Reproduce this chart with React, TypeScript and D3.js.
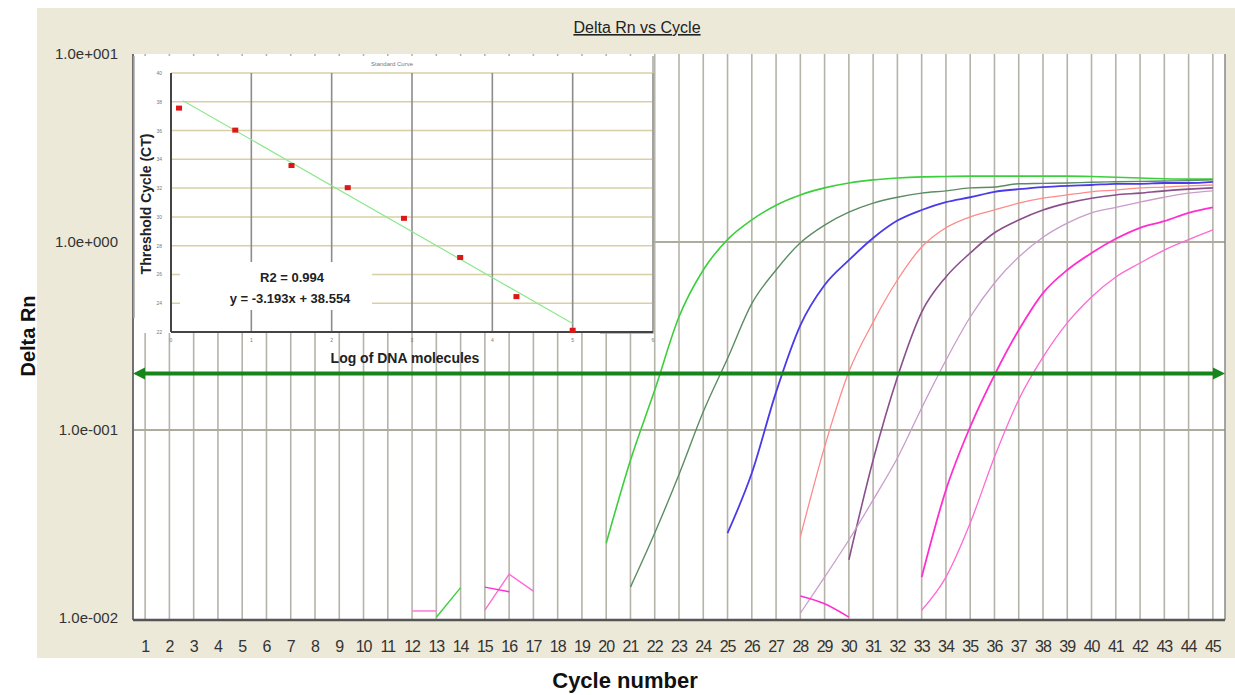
import * as d3 from 'd3';

// ---- main chart data ----
const cycles = d3.range(1, 46);
const yTickValues = [10, 1, 0.1, 0.01];
const yTickLabels = ['1.0e+001', '1.0e+000', '1.0e-001', '1.0e-002'];
const threshold = 0.2;

// Delta Rn per cycle, each series starts at the given cycle
const brightGreen = [0.025, 0.069, 0.163, 0.40, 0.71, 1.03, 1.31, 1.57, 1.78, 1.94, 2.06, 2.14, 2.19, 2.22, 2.23, 2.24, 2.24, 2.24, 2.24, 2.24, 2.23, 2.21, 2.19, 2.17, 2.16, 2.16];
const darkGreen = [0.0146, 0.0283, 0.058, 0.125, 0.24, 0.47, 0.71, 0.99, 1.23, 1.44, 1.61, 1.73, 1.82, 1.87, 1.94, 1.96, 2.04, 2.05, 2.06, 2.08, 2.09, 2.10, 2.11, 2.12, 2.14];
const blue = [0.0283, 0.059, 0.159, 0.36, 0.59, 0.80, 1.05, 1.30, 1.48, 1.63, 1.73, 1.85, 1.91, 1.96, 1.99, 2.01, 2.04, 2.04, 2.06, 2.06, 2.09];
const salmon = [0.027, 0.0813, 0.204, 0.375, 0.628, 0.94, 1.19, 1.36, 1.48, 1.61, 1.71, 1.78, 1.85, 1.89, 1.94, 1.96, 1.99, 2.01];
const darkPurple = [0.0204, 0.0692, 0.191, 0.424, 0.652, 0.874, 1.12, 1.31, 1.48, 1.61, 1.71, 1.78, 1.82, 1.87, 1.91, 1.94];
const lightPurple = [0.0106, 0.0165, 0.026, 0.0425, 0.071, 0.131, 0.235, 0.399, 0.605, 0.832, 1.06, 1.26, 1.43, 1.53, 1.63, 1.73, 1.82, 1.87];
const magenta = [0.0165, 0.048, 0.104, 0.196, 0.340, 0.535, 0.710, 0.874, 1.04, 1.19, 1.29, 1.43, 1.53];
const pink = [0.0110, 0.0165, 0.032, 0.0718, 0.145, 0.244, 0.371, 0.510, 0.652, 0.773, 0.906, 1.03, 1.16];

// early noise pieces just above the 1e-2 floor
const greenNoise = [0.0101, 0.0145];
const pinkNoiseA = [0.0109, 0.0109];
const pinkNoiseB = [0.011, 0.0171, 0.0139];
const magentaNoiseA = [0.0146, 0.0138];
const magentaNoiseB = [0.0131, 0.0119, 0.0101];

const series = [
  { start: 20, values: brightGreen, color: '#3ccf3c', width: 1.6, smooth: true },
  { start: 13, values: greenNoise, color: '#3ccf3c', width: 1.4, smooth: false },
  { start: 21, values: darkGreen, color: '#5b8d62', width: 1.4, smooth: true },
  { start: 25, values: blue, color: '#4a3bea', width: 1.8, smooth: true },
  { start: 28, values: salmon, color: '#ff8a8a', width: 1.3, smooth: true },
  { start: 30, values: darkPurple, color: '#8a4f8c', width: 1.6, smooth: true },
  { start: 28, values: lightPurple, color: '#c99ccb', width: 1.3, smooth: true },
  { start: 33, values: magenta, color: '#ff2fcf', width: 1.8, smooth: true },
  { start: 33, values: pink, color: '#ff6ad2', width: 1.3, smooth: true },
  { start: 12, values: pinkNoiseA, color: '#ff7fd8', width: 1.6, smooth: false },
  { start: 15, values: pinkNoiseB, color: '#ff6ad2', width: 1.4, smooth: false },
  { start: 15, values: magentaNoiseA, color: '#ff2fcf', width: 1.4, smooth: false },
  { start: 28, values: magentaNoiseB, color: '#ff2fcf', width: 1.6, smooth: true },
];

// ---- inset standard curve data ----
const logDNA = [0.1, 0.8, 1.5, 2.2, 2.9, 3.6, 4.3, 5.0];
const ctValues = [37.56, 36.03, 33.57, 32.03, 29.90, 27.18, 24.46, 22.12];
const fitSlope = -3.193;
const fitIntercept = 38.554;
const fitRange = [0.15, 5.0];
const insetYTicks = d3.range(22, 41, 2);
const insetXTicks = d3.range(0, 7);

const FONT = '"Liberation Sans", Arial, sans-serif';

export default function App() {
  const W = 1235;
  const H = 695;

  const x = d3.scaleLinear().domain([0.5, 45.5]).range([133, 1225]);
  const y = d3.scaleLog().domain([0.01, 10]).range([618, 54]);
  const plotTop = 54;
  const plotBottom = 620;
  const [x0, x1] = x.range();

  const smoothLine = d3
    .line<{ c: number; v: number }>()
    .x((d) => x(d.c))
    .y((d) => y(d.v))
    .curve(d3.curveMonotoneX);
  const straightLine = d3
    .line<{ c: number; v: number }>()
    .x((d) => x(d.c))
    .y((d) => y(d.v));

  const ix = d3.scaleLinear().domain([0, 6]).range([171, 653]);
  const iy = d3.scaleLinear().domain([22, 40]).range([332, 73]);
  const fitLine = d3
    .line<number>()
    .x((d) => ix(d))
    .y((d) => iy(fitSlope * d + fitIntercept));

  const yT = y(threshold);

  return (
    <svg
      width={W}
      height={H}
      style={{ position: 'absolute', left: 0, top: 0, background: '#fff' }}
      fontFamily={FONT}
    >
      <defs>
        <clipPath id="plot-clip">
          <rect x={x0} y={plotTop} width={x1 - x0} height={plotBottom - plotTop} />
        </clipPath>
      </defs>

      {/* beige panel */}
      <rect x={37} y={8} width={W - 37} height={650} fill="#ece9d9" />

      <text x={637} y={33} textAnchor="middle" fontSize={16} fill="#222" textDecoration="underline">
        Delta Rn vs Cycle
      </text>

      {/* plot area */}
      <rect x={x0} y={plotTop} width={x1 - x0} height={plotBottom - plotTop} fill="#fff" />

      {cycles.map((c) => (
        <line key={'vg' + c} x1={x(c)} x2={x(c)} y1={plotTop} y2={plotBottom} stroke="#b6b3a8" strokeWidth={1.6} />
      ))}
      {[1, 0.1].map((v) => (
        <line key={'hg' + v} x1={x0} x2={x1} y1={y(v)} y2={y(v)} stroke="#aeab9f" strokeWidth={2} />
      ))}

      <g clipPath="url(#plot-clip)" fill="none">
        {series.map((s, i) => {
          const pts = s.values.map((v, k) => ({ c: s.start + k, v }));
          return (
            <path
              key={'s' + i}
              d={(s.smooth ? smoothLine(pts) : straightLine(pts)) || ''}
              stroke={s.color}
              strokeWidth={s.width}
            />
          );
        })}
      </g>

      {/* borders */}
      <line x1={x0} x2={x0} y1={plotTop} y2={plotBottom} stroke="#707070" strokeWidth={2} />
      <line x1={x1} x2={x1} y1={plotTop} y2={plotBottom} stroke="#8a8a8a" strokeWidth={1.5} />
      <line x1={x0} x2={x1} y1={plotBottom} y2={plotBottom} stroke="#555" strokeWidth={2.5} />

      {/* y ticks */}
      {yTickValues.map((v, i) => (
        <text key={'yt' + v} x={118} y={y(v) + 5} textAnchor="end" fontSize={15} fill="#333">
          {yTickLabels[i]}
        </text>
      ))}
      {/* x ticks */}
      {cycles.map((c) => (
        <text key={'xt' + c} x={x(c)} y={652} textAnchor="middle" fontSize={16} letterSpacing={-1} fill="#333">
          {c}
        </text>
      ))}

      <text
        transform={`translate(28,336) rotate(-90)`}
        textAnchor="middle"
        dominantBaseline="central"
        fontSize={20}
        fontWeight="bold"
        fill="#111"
      >
        Delta Rn
      </text>
      <text x={625} y={688} textAnchor="middle" fontSize={22} fontWeight="bold" fill="#111">
        Cycle number
      </text>

      {/* ---- inset: standard curve ---- */}
      <rect x={134} y={56} width={519} height={277} fill="#fff" />
      <path d={`M134,318 V56 M653,56 V333 H600`} fill="none" stroke="#a8a8a8" strokeWidth={1.5} />
      {insetYTicks.map((t) => (
        <line key={'iyg' + t} x1={ix(0)} x2={ix(6)} y1={iy(t)} y2={iy(t)} stroke="#d8cfa6" strokeWidth={1.5} />
      ))}
      {[1, 2, 3, 4, 5].map((t) => (
        <line key={'ixg' + t} x1={ix(t)} x2={ix(t)} y1={iy(40)} y2={iy(22)} stroke="#8c8c8c" strokeWidth={1.6} />
      ))}
      <line x1={ix(6)} x2={ix(6)} y1={iy(40)} y2={iy(22)} stroke="#9a9a9a" strokeWidth={1.5} />
      <line x1={ix(0)} x2={ix(0)} y1={iy(40)} y2={iy(22)} stroke="#444" strokeWidth={2} />
      <line x1={ix(0)} x2={ix(6)} y1={iy(22)} y2={iy(22)} stroke="#444" strokeWidth={2} />

      {insetYTicks.map((t) => (
        <text key={'iyt' + t} x={ix(0) - 9} y={iy(t) + 2} textAnchor="end" fontSize={5} fill="#777">
          {t}
        </text>
      ))}
      {insetXTicks.map((t) => (
        <text key={'ixt' + t} x={ix(t)} y={342} textAnchor="middle" fontSize={5} fill="#777">
          {t}
        </text>
      ))}
      <text x={392} y={66} textAnchor="middle" fontSize={6} fill="#777">
        Standard Curve
      </text>

      <path d={fitLine(fitRange) || ''} fill="none" stroke="#8ee88e" strokeWidth={1.2} />
      {logDNA.map((l, i) => (
        <rect key={'pt' + i} x={ix(l) - 3} y={iy(ctValues[i]) - 2.5} width={6} height={5} fill="#e01515" />
      ))}

      <rect x={180} y={262} width={192} height={48} fill="#fff" />
      <text x={292} y={282} textAnchor="middle" fontSize={13} fontWeight="bold" fill="#222">
        R2 = 0.994
      </text>
      <text x={290} y={303} textAnchor="middle" fontSize={13} fontWeight="bold" fill="#222">
        y = -3.193x + 38.554
      </text>
      <text
        transform={`translate(146,204) rotate(-90)`}
        textAnchor="middle"
        dominantBaseline="central"
        fontSize={14}
        fontWeight="bold"
        fill="#222"
      >
        Threshold Cycle (CT)
      </text>
      <text x={405} y={363} textAnchor="middle" fontSize={14} fontWeight="bold" fill="#222">
        Log of DNA molecules
      </text>

      {/* threshold with arrowheads */}
      <line x1={x0 + 8} x2={x1 - 8} y1={yT} y2={yT} stroke="#17861a" strokeWidth={4} />
      <path d={`M${x0},${yT} L${x0 + 12},${yT - 6} L${x0 + 12},${yT + 6} Z`} fill="#17861a" />
      <path d={`M${x1},${yT} L${x1 - 12},${yT - 6} L${x1 - 12},${yT + 6} Z`} fill="#17861a" />
    </svg>
  );
}
